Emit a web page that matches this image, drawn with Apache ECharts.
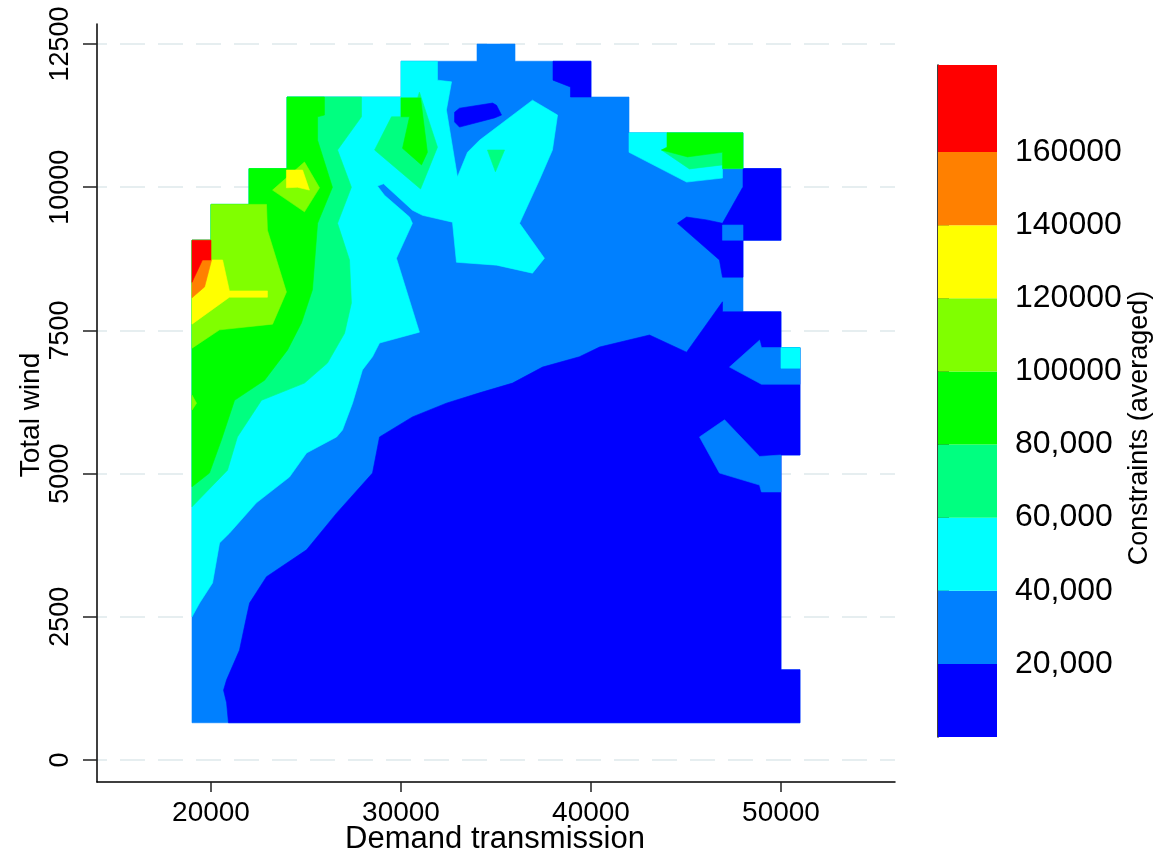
<!DOCTYPE html>
<html>
<head>
<meta charset="utf-8">
<script src="https://cdn.jsdelivr.net/npm/echarts@6/dist/echarts.min.js"></script>
<style>
html,body{margin:0;padding:0;background:#fff;}
#chart{width:1157px;height:856px;}
</style>
</head>
<body>
<div id="chart"></div>
<script>
// ---------- axis ticks ----------
const xTicks = [20000, 30000, 40000, 50000];
const yTicks = [0, 2500, 5000, 7500, 10000, 12500];
const cbTicks = [20000, 40000, 60000, 80000, 100000, 120000, 140000, 160000];

// ---------- contour levels ----------
const levelBreaks = [0, 20000, 40000, 60000, 80000, 100000, 120000, 140000, 160000, 183800];
const levelColors = ['#0000FF', '#0080FF', '#00FFFF', '#00FF80', '#00FF00', '#80FF00', '#FFFF00', '#FF8000', '#FF0000'];

// ---------- contour regions (x = demand transmission, y = total wind) ----------
const hullBlue = [[19000,650],[51000,650],[51000,1575],[50000,1575],[50000,5325],[51000,5325],[51000,7200],[50000,7200],[50000,7825],[48000,7825],[48000,9075],[50000,9075],[50000,10325],[48000,10325],[48000,10950],[42000,10950],[42000,11575],[40000,11575],[40000,12200],[36000,12200],[36000,12500],[34000,12500],[34000,12200],[30000,12200],[30000,11575],[24000,11575],[24000,10325],[22000,10325],[22000,9700],[20000,9700],[20000,9075],[19000,9075]];
const darkBlueMain = [[20920,650],[20820,1000],[20660,1220],[20820,1400],[21500,1920],[21870,2500],[22030,2740],[22920,3200],[25030,3670],[26610,4310],[28500,5010],[28870,5640],[30600,5990],[32390,6230],[34130,6410],[35870,6580],[37450,6860],[39390,7040],[40450,7210],[43080,7420],[45030,7120],[46920,8000],[46920,7825],[50000,7825],[50000,7200],[51000,7200],[51000,5325],[50000,5325],[50000,1575],[51000,1575],[51000,650]];
const darkBlueTopRight = [[48000,10325],[50000,10325],[50000,9075],[48000,9075],[48000,8430],[46920,8430],[46760,8730],[44550,9370],[45030,9480],[46080,9430],[46920,9370],[47970,9990],[48000,9990]];
const darkBlueTop = [[38000,12200],[40000,12200],[40000,11575],[38920,11575],[38920,11750],[38000,11870]];
const darkBlueIsland = [[32820,11310],[33080,11380],[34820,11470],[35030,11430],[35290,11260],[34920,11210],[33080,11050],[32820,11140]];
const blueSquare = [[46920,9340],[48000,9340],[48000,9075],[46920,9075]];
const blueWedgeUpper = [[47290,6860],[48870,7330],[48970,7200],[51000,7200],[51000,6560],[48970,6560]];
const blueWedgeLower = [[45710,5640],[47030,5940],[48870,5300],[50000,5325],[50000,4680],[48970,4680],[48870,4800],[46760,5010]];
const cyanRightBlock = [[50000,7200],[51000,7200],[51000,6840],[50000,6840]];
const cyanMain = [[19000,2500],[19000,9075],[20000,9075],[20000,9700],[22000,9700],[22000,10325],[24000,10325],[24000,11575],[30000,11575],[30000,12200],[31920,12200],[31920,11870],[32660,11840],[32390,11350],[32970,10180],[33500,10610],[34130,10820],[36920,11520],[38240,11260],[37970,10650],[37290,10130],[36240,9370],[37550,8760],[36920,8500],[35030,8640],[32920,8690],[32710,9390],[31130,9510],[30600,9600],[29080,10060],[28760,10020],[29130,9860],[30450,9480],[30600,9370],[29760,8760],[30970,7470],[28870,7280],[28500,7040],[27970,6810],[27450,6230],[26920,5760],[26610,5640],[25030,5360],[24130,4940],[22390,4490],[20970,3960],[20450,3790],[20080,3090],[19400,2740]];
const cyanTopRight = [[42000,10950],[48000,10950],[48000,10325],[46920,10325],[46920,10160],[45030,10090],[42000,10610]];
const lightGreenMain = [[19000,4420],[20870,5060],[21390,5640],[22660,6280],[24920,6580],[26130,6930],[27030,7450],[27390,7980],[27290,8730],[26660,9370],[27390,10000],[26660,10650],[27920,11230],[27920,11575],[24000,11575],[24000,10325],[22000,10325],[22000,9700],[20000,9700],[20000,9075],[19000,9075]];
const lightGreenTop = [[28610,10650],[29500,11230],[30000,11230],[30000,11560],[30870,11560],[30970,11660],[31920,10700],[31030,9970]];
const lightGreenTri = [[34550,10650],[35450,10650],[34970,10270]];
const lightGreenTopRight = [[43710,10650],[45080,10530],[46920,10610],[46920,10390],[45180,10320]];
const greenMain = [[19000,4770],[19920,5010],[20550,5590],[21240,6280],[22820,6630],[24030,7160],[24760,7630],[25340,8210],[25610,9370],[26390,10000],[25610,10820],[25610,11230],[25970,11260],[25970,11575],[24000,11575],[24000,10325],[22000,10325],[22000,9700],[20000,9700],[20000,9075],[19000,9075]];
const greenTop = [[30000,11560],[31030,11560],[31390,10610],[31080,10390],[30080,10680],[30450,11230],[30000,11230]];
const greenTopRight = [[44000,10950],[48000,10950],[48000,10325],[46920,10325],[46920,10610],[45080,10530],[43710,10650],[44000,10700]];
const yellowGreenMain = [[19000,9075],[20000,9075],[20000,9700],[22920,9700],[22970,9250],[23970,8170],[23240,7610],[20450,7510],[19000,7190]];
const yellowGreenTop = [[23240,9950],[24920,10440],[25710,9990],[24920,9570]];
const yellowGreenBlip = [[19000,6370],[19240,6230],[19000,6110]];
const yellowMain = [[19000,8290],[19550,8730],[20610,8730],[20970,8190],[22970,8190],[22970,8080],[20970,8080],[19000,7610]];
const yellowTop = [[23970,10300],[24820,10300],[25180,9950],[24550,10000],[23970,9990]];
const orangeMain = [[19000,8380],[19550,8730],[20030,8730],[19660,8260],[19000,8070]];
const redMain = [[19000,9075],[20000,9075],[20000,8730],[19550,8730],[19000,8340]];

// painter's order: [polygon, level index]
const layers = [
  [hullBlue, 1], [darkBlueMain, 0], [darkBlueTopRight, 0], [darkBlueTop, 0], [darkBlueIsland, 0],
  [blueSquare, 1], [blueWedgeUpper, 1], [blueWedgeLower, 1],
  [cyanRightBlock, 2], [cyanMain, 2], [cyanTopRight, 2],
  [lightGreenMain, 3], [lightGreenTop, 3], [lightGreenTri, 3], [lightGreenTopRight, 3],
  [greenMain, 4], [greenTop, 4], [greenTopRight, 4],
  [yellowGreenMain, 5], [yellowGreenTop, 5], [yellowGreenBlip, 5],
  [yellowMain, 6], [yellowTop, 6],
  [orangeMain, 7],
  [redMain, 8]
];

const FONT = '"Liberation Sans", Arial, sans-serif';
const chart = echarts.init(document.getElementById('chart'), null, {renderer: 'canvas'});

const option = {
  animation: false,
  backgroundColor: '#fff',
  grid: [
    {left: 97, top: 24, width: 798, height: 758},
    {left: 938, top: 65, width: 59, height: 672}
  ],
  xAxis: [
    {
      type: 'value', gridIndex: 0, min: 14000, max: 56000,
      axisLine: {show: true, onZero: false, lineStyle: {color: '#000', width: 1.5}},
      axisTick: {show: true, customValues: xTicks, length: 10, lineStyle: {color: '#222', width: 1.5}},
      axisLabel: {customValues: xTicks, fontSize: 28, color: '#000', margin: 17, fontFamily: FONT, formatter: v => String(v)},
      splitLine: {show: false}
    },
    {type: 'value', gridIndex: 1, min: 0, max: 1, show: false}
  ],
  yAxis: [
    {
      type: 'value', gridIndex: 0, min: -384, max: 12850,
      axisLine: {show: true, onZero: false, lineStyle: {color: '#000', width: 1.5}},
      axisTick: {show: true, customValues: yTicks, length: 14, lineStyle: {color: '#222', width: 1.5}},
      axisLabel: {customValues: yTicks, rotate: 90, fontSize: 27, color: '#000', margin: 23, fontFamily: FONT, formatter: v => String(v)},
      splitLine: {show: true, lineStyle: {color: '#E6EEF0', width: 2, type: [25, 13], dashOffset: 15}}
    },
    {
      type: 'value', gridIndex: 1, min: 0, max: 183800, position: 'right',
      axisLine: {show: true, lineStyle: {color: '#000', width: 1.5}},
      axisTick: {show: true, customValues: cbTicks, length: 11, lineStyle: {color: '#000', width: 1.5}},
      axisLabel: {
        customValues: cbTicks, fontSize: 32, color: '#000', margin: 18, fontFamily: FONT,
        formatter: v => v >= 100000 ? String(v) : Number(v).toLocaleString('en-US')
      },
      splitLine: {show: false}
    }
  ],
  series: [
    {
      type: 'custom', xAxisIndex: 0, yAxisIndex: 0, silent: true,
      data: layers.map((l, i) => [l[0][0][0], l[0][0][1], i]),
      encode: {x: 0, y: 1},
      renderItem: function (params, api) {
        const layer = layers[params.dataIndex];
        return {
          type: 'polygon',
          shape: {points: layer[0].map(p => api.coord(p))},
          style: {fill: levelColors[layer[1]], stroke: levelColors[layer[1]], lineWidth: 0.6}
        };
      }
    },
    {
      type: 'custom', xAxisIndex: 1, yAxisIndex: 1, silent: true,
      data: levelColors.map((c, i) => [0.5, (levelBreaks[i] + levelBreaks[i + 1]) / 2, i]),
      encode: {x: 0, y: 1},
      renderItem: function (params, api) {
        const i = params.dataIndex;
        const p1 = api.coord([0, levelBreaks[i + 1]]);
        const p2 = api.coord([1, levelBreaks[i]]);
        return {
          type: 'rect',
          shape: {x: p1[0], y: p1[1], width: p2[0] - p1[0], height: p2[1] - p1[1]},
          style: {fill: levelColors[i]}
        };
      }
    }
  ],
  graphic: [
    {type: 'text', x: 495, y: 839, style: {text: 'Demand transmission', font: '31px ' + FONT, fill: '#000', textAlign: 'center', textVerticalAlign: 'middle'}},
    {type: 'text', x: 31, y: 415, rotation: Math.PI / 2, style: {text: 'Total wind', font: '28px ' + FONT, fill: '#000', textAlign: 'center', textVerticalAlign: 'middle'}},
    {type: 'text', x: 1140, y: 428, rotation: Math.PI / 2, style: {text: 'Constraints (averaged)', font: '27px ' + FONT, fill: '#000', textAlign: 'center', textVerticalAlign: 'middle'}}
  ]
};
chart.setOption(option);
</script>
</body>
</html>
